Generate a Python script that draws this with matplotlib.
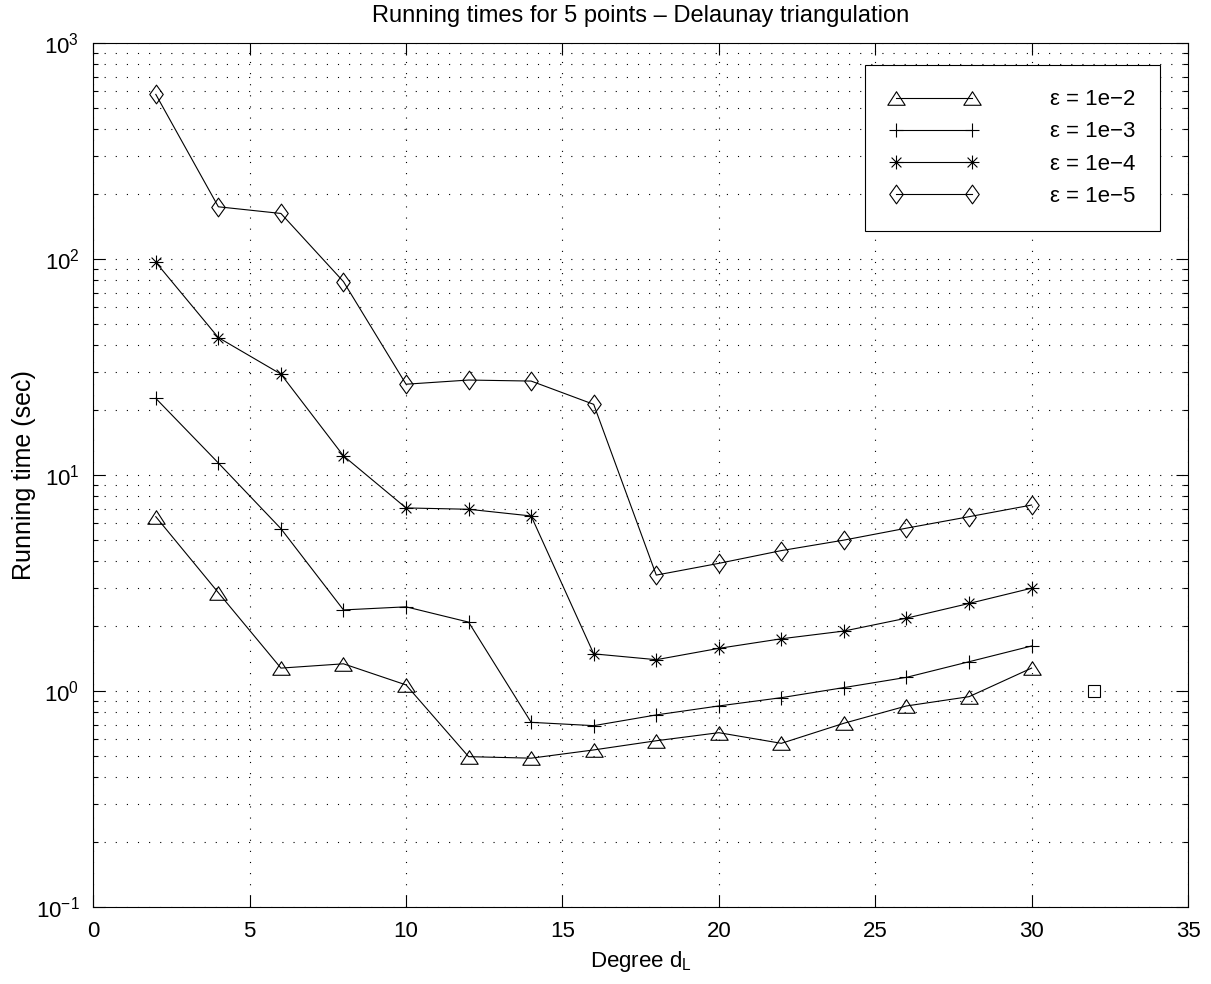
import numpy as np
import matplotlib
matplotlib.use("Agg")
from matplotlib import pyplot as plt
from matplotlib.path import Path
from matplotlib.ticker import LogLocator, MultipleLocator, NullFormatter

plt.rcParams["font.family"] = ["Liberation Sans", "DejaVu Sans"]
plt.rcParams["mathtext.default"] = "regular"

# ---- Data ----
degree = [2, 4, 6, 8, 10, 12, 14, 16, 18, 20, 22, 24, 26, 28, 30]

t_eps2 = [6.43, 2.86, 1.28, 1.34, 1.07, 0.498, 0.490, 0.535, 0.590, 0.643, 0.574, 0.711, 0.855, 0.944, 1.28]
t_eps3 = [22.7, 11.4, 5.66, 2.38, 2.46, 2.09, 0.718, 0.693, 0.777, 0.855, 0.934, 1.04, 1.16, 1.37, 1.62]
t_eps4 = [96.9, 43.4, 29.4, 12.3, 7.06, 6.96, 6.48, 1.49, 1.40, 1.58, 1.75, 1.90, 2.18, 2.55, 3.00]
t_eps5 = [580, 175, 163, 78.8, 26.4, 27.6, 27.3, 21.3, 3.45, 3.91, 4.48, 5.01, 5.69, 6.43, 7.28]

labels = ["ε = 1e−2", "ε = 1e−3", "ε = 1e−4", "ε = 1e−5"]

extra_x = [32]
extra_y = [1.0]

FS = 16

# ---- MATLAB-like markers ----
tri = Path([(-1, -0.78), (1, -0.78), (0, 0.78), (-1, -0.78)],
           [Path.MOVETO, Path.LINETO, Path.LINETO, Path.CLOSEPOLY])
dia = Path([(0, 1), (0.72, 0), (0, -1), (-0.72, 0), (0, 1)],
           [Path.MOVETO, Path.LINETO, Path.LINETO, Path.LINETO, Path.CLOSEPOLY])
c = np.sqrt(0.5)
ast = Path([(-1, 0), (1, 0), (0, -1), (0, 1), (-c, -c), (c, c), (-c, c), (c, -c)],
           [Path.MOVETO, Path.LINETO] * 4)

series = [
    (t_eps2, tri, 12.5),
    (t_eps3, "+", 9.5),
    (t_eps4, ast, 10),
    (t_eps5, dia, 13.5),
]

fig = plt.figure(figsize=(12.11, 9.84), dpi=100)
ax = fig.add_axes([0.077, 0.078, 0.904, 0.878])

for (vals, mk, ms), lab in zip(series, labels):
    ax.plot(degree, vals, color="black", linewidth=0.8, marker=mk, markersize=ms,
            markerfacecolor="none", markeredgecolor="black", markeredgewidth=0.8, label=lab)
ax.plot(extra_x, extra_y, linestyle="none", marker="s", markersize=9,
        markerfacecolor="none", markeredgecolor="black", markeredgewidth=0.8)

ax.set_yscale("log")
ax.set_xlim(0, 35)
ax.set_ylim(0.1, 1000)
ax.xaxis.set_major_locator(MultipleLocator(5))
ax.yaxis.set_major_locator(LogLocator(base=10, numticks=10))
ax.yaxis.set_minor_locator(LogLocator(base=10, subs=np.arange(2, 10), numticks=10))
ax.yaxis.set_minor_formatter(NullFormatter())

ax.tick_params(which="both", direction="in", top=True, right=True, labelsize=FS, width=0.8)
ax.tick_params(which="major", length=8.5, pad=10)
ax.tick_params(which="minor", length=3.5)

grid_ls = (0, (1, 9))
ax.grid(True, which="major", axis="x", color="black", linestyle=grid_ls, linewidth=0.8)
ax.grid(True, which="both", axis="y", color="black", linestyle=grid_ls, linewidth=0.8)
for s in ax.spines.values():
    s.set_linewidth(0.8)

ax.set_title("Running times for 5 points – Delaunay triangulation", fontsize=17, pad=15)
ax.set_xlabel("Degree $d_L$", fontsize=FS, labelpad=5)
ax.set_ylabel("Running time (sec)", fontsize=18, labelpad=0)

leg = ax.legend(loc="upper right", bbox_to_anchor=(0.974, 0.975), borderaxespad=0,
                numpoints=2, handlelength=4.0, handletextpad=3.2, labelspacing=0.5,
                borderpad=1.1, fontsize=FS, fancybox=False, framealpha=1, edgecolor="black")
leg.get_frame().set_linewidth(0.8)

fig.savefig("out.png", dpi=100)
